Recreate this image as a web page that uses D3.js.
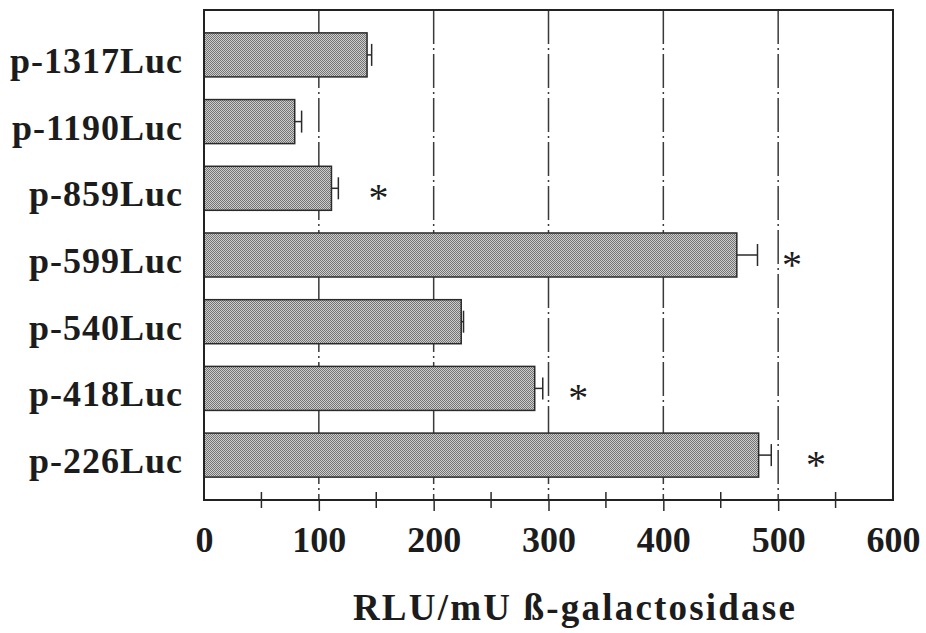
<!DOCTYPE html>
<html lang="en">
  <head>
    <meta charset="UTF-8" />
    <title>Luc deletion constructs</title>
    <script src="https://d3js.org/d3.v7.min.js"></script>
    <style>
      body { margin: 0; background: #fff; }
      text { font-family: "Liberation Serif", "Times New Roman", serif; font-weight: bold; fill: #1c1c1c; }
    </style>
  </head>
  <body>
    <svg width="926" height="633"></svg>
    <script>
      // data
      const constructs = ["p-1317Luc", "p-1190Luc", "p-859Luc", "p-599Luc", "p-540Luc", "p-418Luc", "p-226Luc"];
      const rlu = [142, 79, 111, 464, 224, 288, 483];
      const err = [4, 6, 6, 18, 2, 7, 11];
      // asterisks: which construct, and where (in RLU) the star sits
      const starRows = ["p-859Luc", "p-599Luc", "p-418Luc", "p-226Luc"];
      const starAt = [152, 512, 326, 533];
      const xTicks = [0, 100, 200, 300, 400, 500, 600];
      const xMinor = [50, 150, 250, 350, 450, 550];

      const svg = d3.select("svg");
      const plot = { left: 204, right: 893, top: 10, bottom: 500 };

      const x = d3.scaleLinear().domain([0, 600]).range([plot.left, plot.right]);
      const y = d3.scaleBand().domain(constructs).range([plot.top, plot.bottom])
        .paddingInner(0.34).paddingOuter(0.343);

      // fine dotted fill like the printed screen
      const defs = svg.append("defs");
      const pat = defs.append("pattern").attr("id", "dots")
        .attr("width", 2).attr("height", 2).attr("patternUnits", "userSpaceOnUse");
      pat.append("rect").attr("width", 2).attr("height", 2).attr("fill", "#cdcdcd");
      pat.append("rect").attr("width", 1).attr("height", 1).attr("fill", "#747474");
      pat.append("rect").attr("x", 1).attr("y", 1).attr("width", 1).attr("height", 1).attr("fill", "#747474");

      // dash-dot gridlines
      svg.append("g").selectAll("line").data(xTicks.slice(1, -1)).join("line")
        .attr("x1", d => x(d)).attr("x2", d => x(d))
        .attr("y1", plot.top).attr("y2", plot.bottom)
        .attr("stroke", "#3a3a3a").attr("stroke-width", 1.5)
        .attr("stroke-dasharray", "34,4,2,4");

      // bars
      svg.append("g").selectAll("rect").data(constructs).join("rect")
        .attr("x", x(0))
        .attr("y", d => y(d))
        .attr("width", (d, i) => x(rlu[i]) - x(0))
        .attr("height", y.bandwidth())
        .attr("fill", "url(#dots)")
        .attr("stroke", "#2a2a2a").attr("stroke-width", 1.5);

      // error bars (upper side only)
      const eb = svg.append("g").attr("stroke", "#2a2a2a").attr("stroke-width", 1.5);
      constructs.forEach((c, i) => {
        const cy = y(c) + y.bandwidth() / 2;
        eb.append("line").attr("x1", x(rlu[i])).attr("x2", x(rlu[i] + err[i])).attr("y1", cy).attr("y2", cy);
        eb.append("line").attr("x1", x(rlu[i] + err[i])).attr("x2", x(rlu[i] + err[i]))
          .attr("y1", cy - 11).attr("y2", cy + 11);
      });

      // stars
      svg.append("g").selectAll("text").data(starRows).join("text")
        .attr("x", (d, i) => x(starAt[i]))
        .attr("y", d => y(d) + y.bandwidth() / 2 + 23)
        .attr("text-anchor", "middle")
        .attr("font-size", 40)
        .style("font-weight", "normal")
        .text("*");

      // frame
      svg.append("rect").attr("x", plot.left).attr("y", plot.top)
        .attr("width", plot.right - plot.left).attr("height", plot.bottom - plot.top)
        .attr("fill", "none").attr("stroke", "#222").attr("stroke-width", 2);

      // bottom axis
      const xAxis = d3.axisBottom(x).tickValues(xTicks).tickSize(11).tickFormat(d3.format("d"));
      const ax = svg.append("g").attr("transform", `translate(0,${plot.bottom})`).call(xAxis);
      ax.select(".domain").remove();
      ax.selectAll(".tick line").attr("stroke", "#2a2a2a").attr("stroke-width", 1.5);
      ax.selectAll(".tick text").attr("y", 52).attr("dy", 0)
        .attr("font-size", 36).attr("font-family", null).attr("fill", null);
      ax.selectAll(".tick").filter(d => d === 0 || d === 600).select("line").remove();

      svg.append("g").selectAll("line").data(xMinor).join("line")
        .attr("x1", d => x(d)).attr("x2", d => x(d))
        .attr("y1", plot.bottom - 8).attr("y2", plot.bottom + 8)
        .attr("stroke", "#2a2a2a").attr("stroke-width", 1.5);

      // category labels
      const ls = 1;
      svg.append("g").selectAll("text").data(constructs).join("text")
        .attr("x", 182 + ls)
        .attr("y", d => y(d) + y.bandwidth() / 2 + 18)
        .attr("text-anchor", "end")
        .attr("font-size", 36)
        .attr("letter-spacing", ls)
        .text(d => d);

      // axis title
      svg.append("text")
        .attr("x", 575).attr("y", 620)
        .attr("text-anchor", "middle")
        .attr("font-size", 37)
        .attr("letter-spacing", 2.2)
        .text("RLU/mU ß-galactosidase");
    </script>
  </body>
</html>
